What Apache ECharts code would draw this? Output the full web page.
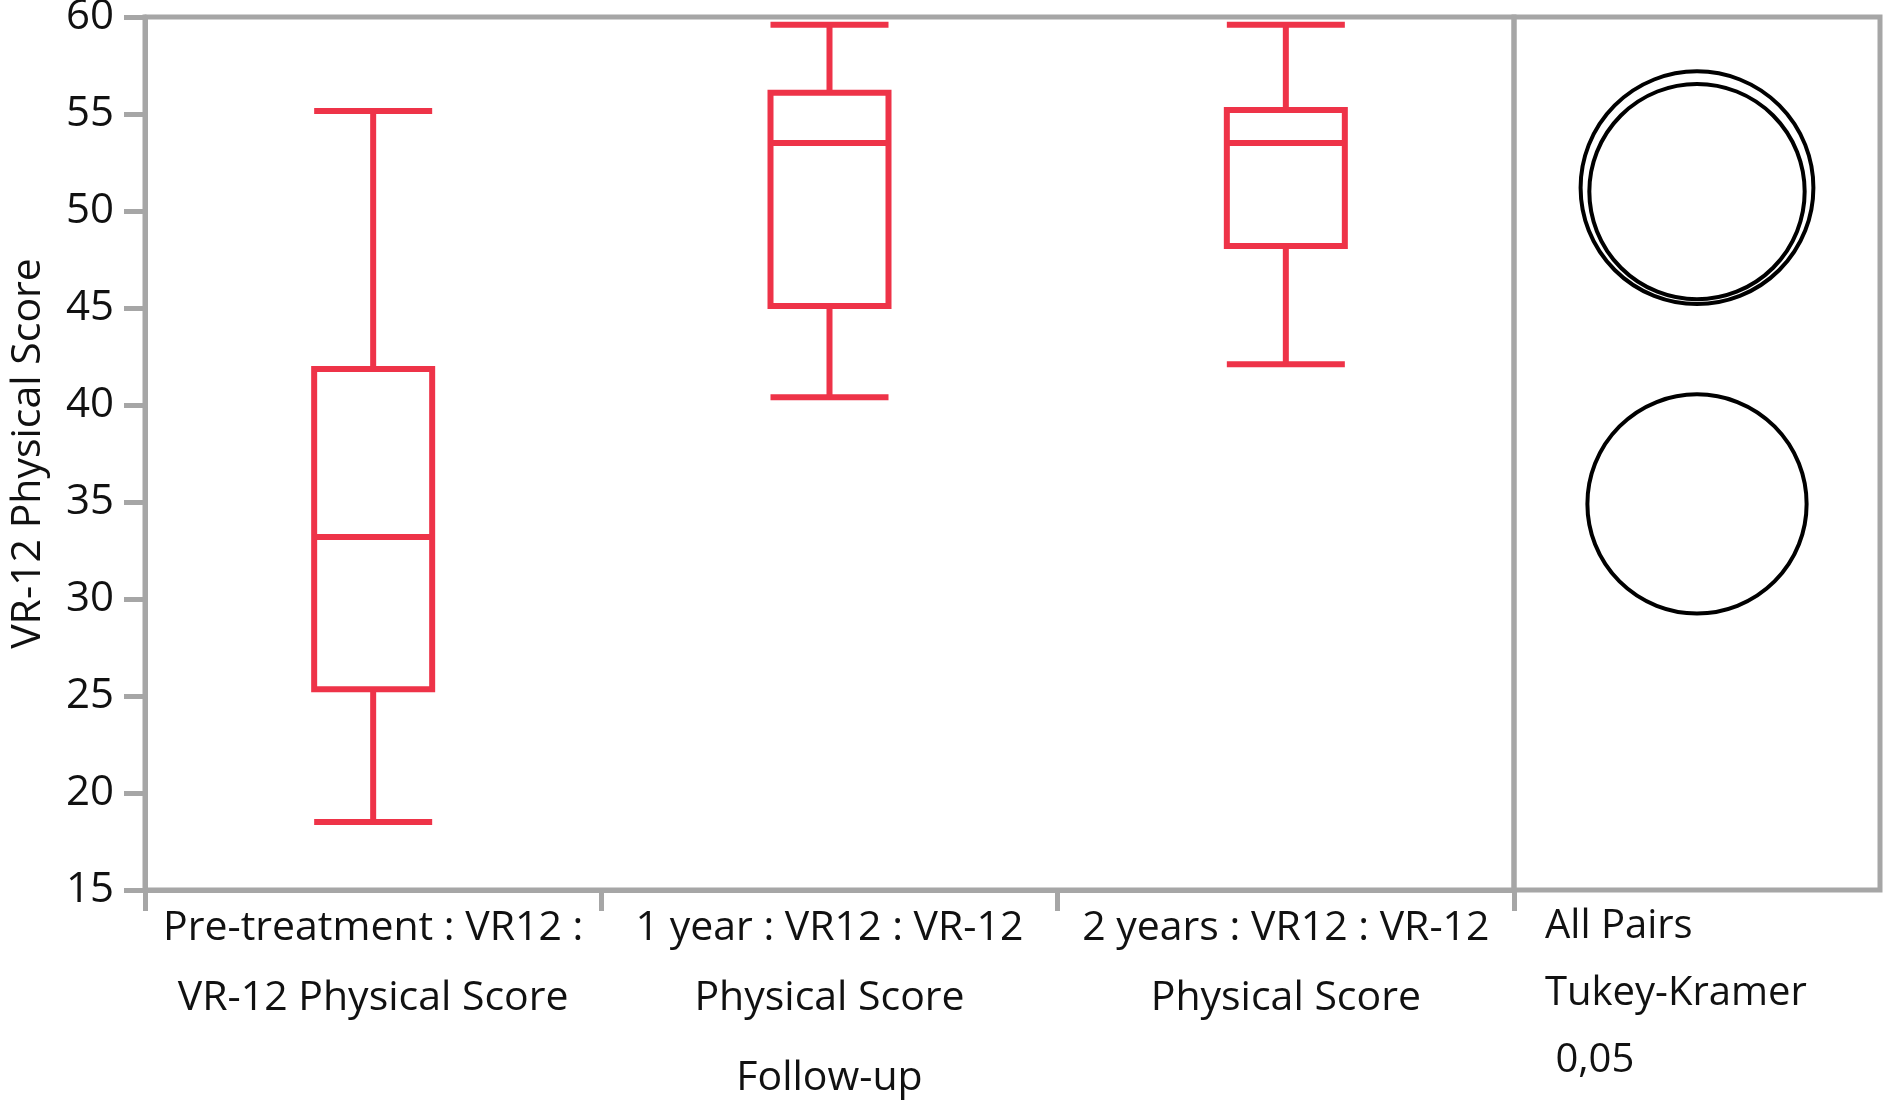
<!DOCTYPE html>
<html>
<head>
<meta charset="utf-8">
<title>VR-12 Physical Score</title>
<script src="https://cdn.jsdelivr.net/npm/echarts@6/dist/echarts.min.js"></script>
<style>
  html, body { margin: 0; padding: 0; background: #fff; }
  #chart { width: 1884px; height: 1103px; }
</style>
</head>
<body>
<div id="chart"></div>
<script>
// categories on the x axis
const categories = [
  'Pre-treatment : VR12 :\nVR-12 Physical Score',
  '1 year : VR12 : VR-12\nPhysical Score',
  '2 years : VR12 : VR-12\nPhysical Score'
]
// [min, Q1, median, Q3, max]
const preTreatment = [18.5, 25.35, 33.2, 41.85, 55.15]
const oneYear = [40.4, 45.1, 53.5, 56.1, 59.6]
const twoYears = [42.1, 48.2, 53.5, 55.2, 59.6]
// comparison circles (All Pairs, Tukey-Kramer 0,05)
const circleMeans = [51.2, 51.0, 34.9]
const circleRadii = [6.0, 5.55, 5.65]

const yTicks = { min: 15, max: 60, interval: 5 }

const gray = '#a6a6a6'
const red = '#ee3348'
const font = '"Open Sans", "Noto Sans", sans-serif'

const chart = echarts.init(document.getElementById('chart'))

const option = {
  animation: false,
  backgroundColor: '#fff',
  textStyle: { fontFamily: font },
  title: {
    text: 'All Pairs\nTukey-Kramer\n 0,05',
    left: 1545,
    top: 893,
    padding: 0,
    textStyle: {
      fontFamily: font,
      fontSize: 40,
      fontWeight: 'normal',
      color: '#111',
      lineHeight: 67
    }
  },
  grid: [
    { left: 145, top: 17, width: 1369, height: 873, show: true, borderColor: gray, borderWidth: 5, outerBoundsMode: 'none', containLabel: false },
    { left: 1514, top: 17, width: 366, height: 873, show: true, borderColor: gray, borderWidth: 5, outerBoundsMode: 'none', containLabel: false }
  ],
  xAxis: [
    {
      type: 'category',
      gridIndex: 0,
      data: categories,
      boundaryGap: true,
      name: 'Follow-up',
      nameLocation: 'middle',
      nameGap: 168,
      nameTextStyle: { fontFamily: font, fontSize: 41, color: '#111' },
      axisLine: { lineStyle: { color: gray, width: 5 } },
      axisTick: { show: true, length: 21, lineStyle: { color: gray, width: 5 } },
      axisLabel: { fontFamily: font, fontSize: 41, color: '#111', lineHeight: 70, margin: 3, interval: 0 },
      splitLine: { show: false }
    },
    {
      type: 'value',
      gridIndex: 1,
      min: 0,
      max: 1,
      show: false
    }
  ],
  yAxis: [
    {
      type: 'value',
      gridIndex: 0,
      min: yTicks.min,
      max: yTicks.max,
      interval: yTicks.interval,
      name: 'VR-12 Physical Score',
      nameLocation: 'middle',
      nameGap: 96,
      nameTextStyle: { fontFamily: font, fontSize: 41, color: '#111' },
      axisLine: { show: true, lineStyle: { color: gray, width: 5 } },
      axisTick: { show: true, length: 21, lineStyle: { color: gray, width: 5 } },
      axisLabel: { fontFamily: font, fontSize: 42, color: '#111', margin: 31 },
      splitLine: { show: false }
    },
    {
      type: 'value',
      gridIndex: 1,
      min: yTicks.min,
      max: yTicks.max,
      show: false
    }
  ],
  series: [
    {
      type: 'boxplot',
      xAxisIndex: 0,
      yAxisIndex: 0,
      boxWidth: [118, 118],
      data: [preTreatment, oneYear, twoYears],
      itemStyle: { color: '#fff', borderColor: red, borderWidth: 6 },
      emphasis: { disabled: true }
    },
    {
      type: 'custom',
      xAxisIndex: 1,
      yAxisIndex: 1,
      data: circleMeans.map((m, i) => [m, circleRadii[i]]),
      renderItem: function (params, api) {
        const center = api.coord([0.5, api.value(0)])
        const r = api.size([0, api.value(1)])[1]
        return {
          type: 'circle',
          shape: { cx: center[0], cy: center[1], r: r },
          style: { fill: 'none', stroke: '#000', lineWidth: 4 }
        }
      },
      silent: true
    }
  ]
}

chart.setOption(option)
</script>
</body>
</html>
